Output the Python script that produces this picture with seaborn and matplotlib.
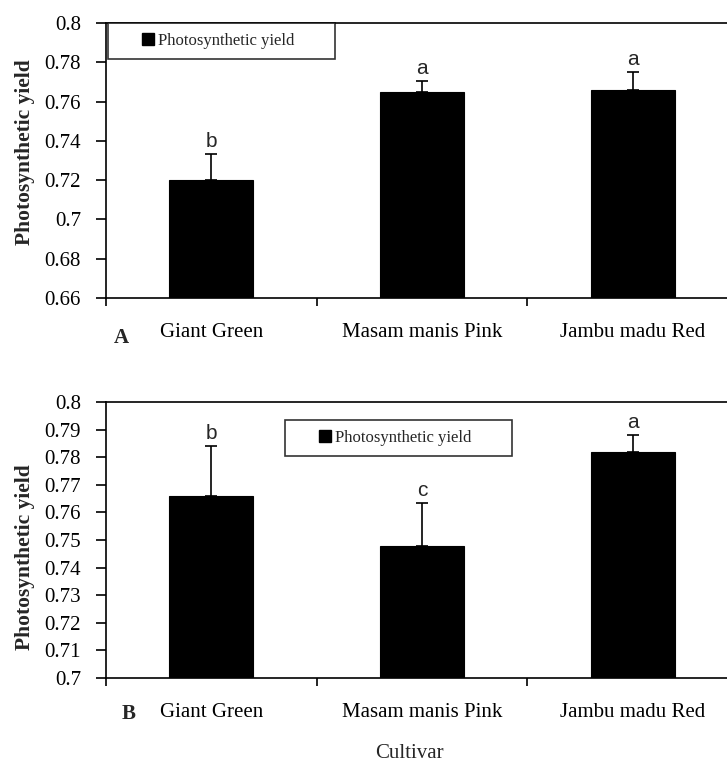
import matplotlib
matplotlib.use("Agg")
import matplotlib.pyplot as plt
from matplotlib.lines import Line2D
import seaborn as sns
import pandas as pd

# Cultivars and photosynthetic yield (mean, upper error) for two experiments
cultivars = ["Giant Green", "Masam manis Pink", "Jambu madu Red"]
yield_a = [0.720, 0.765, 0.766]
err_a = [0.0135, 0.0055, 0.009]
letters_a = ["b", "a", "a"]

yield_b = [0.766, 0.748, 0.782]
err_b = [0.018, 0.0155, 0.006]
letters_b = ["b", "c", "a"]

ticks_a = [0.66, 0.68, 0.70, 0.72, 0.74, 0.76, 0.78, 0.80]
tick_labels_a = ["0.66", "0.68", "0.7", "0.72", "0.74", "0.76", "0.78", "0.8"]
ticks_b = [0.70, 0.71, 0.72, 0.73, 0.74, 0.75, 0.76, 0.77, 0.78, 0.79, 0.80]
tick_labels_b = ["0.7", "0.71", "0.72", "0.73", "0.74", "0.75", "0.76",
                 "0.77", "0.78", "0.79", "0.8"]

sns.set_theme(style="white")
plt.rcParams["font.family"] = ["Liberation Serif", "DejaVu Serif"]

W, H = 727, 763
fig = plt.figure(figsize=(W / 100, H / 100), dpi=100)


def axes_rect(left, right, top, bottom):
    return [left / W, 1 - bottom / H, (right - left) / W, (bottom - top) / H]


def panel(ax, values, errs, letters, ticks, labels, ylim, legend_box, tag, tag_xy):
    df = pd.DataFrame({"Cultivar": cultivars, "Yield": values})
    sns.barplot(data=df, x="Cultivar", y="Yield", color="black",
                saturation=1, width=0.40, errorbar=None, ax=ax,
                edgecolor="black", linewidth=0.8)
    x = range(len(values))
    ax.errorbar(x, values, yerr=[[0] * len(errs), errs], fmt="none",
                ecolor="black", elinewidth=1.2, capsize=4, capthick=1.2,
                zorder=3)
    for xi, v, e, lab in zip(x, values, errs, letters):
        ax.annotate(lab, (xi, v + e), xytext=(0, 2), textcoords="offset points",
                    ha="center", va="bottom", fontsize=15,
                    family=["Liberation Sans", "DejaVu Sans"])

    ax.set_xlim(-0.5, 2.5)
    ax.set_ylim(*ylim)
    ax.set_yticks(ticks)
    ax.set_yticklabels(labels)
    ax.set_xticks([0, 1, 2])
    ax.set_xticklabels(cultivars)
    ax.set_xticks([-0.5, 0.5, 1.5, 2.5], minor=True)
    ax.set_xlabel("")
    ax.set_ylabel("")

    ax.tick_params(axis="x", which="major", length=0, pad=18, labelsize=15,
                   colors="black")
    ax.tick_params(axis="x", which="minor", bottom=True, length=6, width=1.2,
                   color="black")
    ax.tick_params(axis="y", left=True, length=7, width=1.2, pad=11,
                   labelsize=15, colors="black", direction="out")
    for side in ["left", "bottom", "top"]:
        ax.spines[side].set_visible(True)
        ax.spines[side].set_color("black")
        ax.spines[side].set_linewidth(1.2)
    ax.spines["right"].set_visible(False)

    handle = Line2D([], [], marker="s", linestyle="none", color="black",
                    markersize=8)
    leg = ax.legend([handle], ["Photosynthetic yield"], loc="upper left",
                    bbox_to_anchor=legend_box, mode="expand", borderaxespad=0,
                    fontsize=12, frameon=True, fancybox=False, handlelength=3.6,
                    handletextpad=-1.2, borderpad=0.6)
    leg.get_frame().set_edgecolor("black")
    leg.get_frame().set_linewidth(1.2)

    fig.text(tag_xy[0] / W, 1 - tag_xy[1] / H, tag, fontsize=15,
             fontweight="bold", ha="center", va="center")


ax_a = fig.add_axes(axes_rect(106, 738, 23, 298))
panel(ax_a, yield_a, err_a, letters_a, ticks_a, tick_labels_a, (0.66, 0.80),
      (0.003, 0.0, 0.36, 1.0), "A", (121, 338))

ax_b = fig.add_axes(axes_rect(106, 738, 402, 678))
panel(ax_b, yield_b, err_b, letters_b, ticks_b, tick_labels_b, (0.70, 0.80),
      (0.284, 0.0, 0.359, 0.936), "B", (129, 714))

fig.text(25 / W, 1 - 152 / H, "Photosynthetic yield", rotation=90,
         fontsize=15.5, fontweight="bold", ha="center", va="center")
fig.text(25 / W, 1 - 557 / H, "Photosynthetic yield", rotation=90,
         fontsize=15.5, fontweight="bold", ha="center", va="center")
fig.text(409 / W, 1 - 754 / H, "Cultivar", fontsize=15, ha="center",
         va="center")

fig.savefig("out.png", dpi=100, facecolor="white")
